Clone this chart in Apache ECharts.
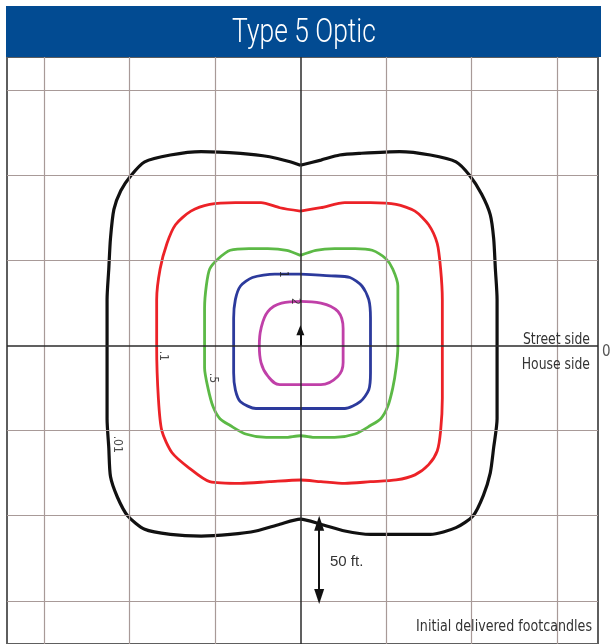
<!DOCTYPE html>
<html lang="en">
<head>
    <meta charset="UTF-8">
    <title>Type 5 Optic</title>
    <script type="text/javascript" src="https://cdn.jsdelivr.net/npm/echarts@6/dist/echarts.min.js"></script>
    <style>
        html, body { margin: 0; padding: 0; background: #fff; }
    </style>
</head>
<body>
  <div id="main" style="width: 610px;height: 644px;"></div>
</body>
<script>
    // grid lines every 50 ft, center axes at 0
    var gridTicks = [-150, -100, -50, 50, 100, 150];

    // isofootcandle contours (x, y in ft)
    var contour001 = [[0,106],[12,109],[23,112],[35,113],[58,114],[76,112],[91,108],[99,100],[106,89],[111,77],[113,63],[114,45],[115,27],[115,-1],[115,-19],[115,-43],[113,-60],[111,-75],[107,-88],[101,-100],[91,-107],[76,-111],[58,-111],[41,-111],[26,-109],[12,-105],[0,-102],[-12,-105],[-26,-109],[-41,-111],[-58,-112],[-76,-111],[-91,-108],[-101,-100],[-107,-89],[-111,-77],[-112,-60],[-113,-43],[-113,-19],[-113,-1],[-113,27],[-112,45],[-111,63],[-109,80],[-105,91],[-99,100],[-91,108],[-76,112],[-58,114],[-35,113],[-18,111],[-6,108],[0,106]];
    var contour01 = [[0,79],[12,81],[26,84],[41,84],[56,83],[67,79],[75,71],[80,60],[82,45],[83,27],[83,-1],[83,-31],[82,-50],[80,-62],[75,-70],[67,-76],[56,-79],[41,-80],[26,-81],[12,-80],[0,-79],[-18,-80],[-35,-81],[-53,-80],[-65,-72],[-75,-63],[-81,-50],[-83,-31],[-84,-1],[-84,27],[-82,45],[-78,60],[-73,71],[-64,79],[-53,83],[-38,84],[-23,84],[-12,81],[0,79]];
    var contour05 = [[0,53],[9,56],[20,57],[32,57],[42,56],[50,51],[54,45],[57,35],[57,22],[57,-1],[56,-13],[54,-25],[51,-36],[47,-43],[41,-47],[32,-52],[20,-54],[9,-54],[0,-53],[-9,-54],[-20,-54],[-32,-52],[-41,-47],[-47,-43],[-51,-36],[-54,-25],[-56,-13],[-56,-1],[-56,22],[-55,35],[-53,45],[-48,51],[-41,56],[-30,57],[-19,57],[-8,56],[0,53]];
    var contour1 = [[0,42],[18,41],[29,40],[36,35],[40,27],[41,16],[41,-1],[41,-16],[40,-26],[35,-33],[26,-37],[12,-37],[0,-37],[-12,-37],[-26,-37],[-35,-33],[-38,-26],[-39,-16],[-39,-1],[-39,16],[-38,27],[-35,35],[-28,40],[-15,42],[0,42]];
    var contour2 = [[0,26],[12,25],[22,20],[25,10],[25,0],[25,-10],[22,-18],[12,-23],[0,-23],[-12,-23],[-19,-18],[-23,-10],[-24,0],[-23,10],[-19,20],[-11,25],[0,26]];

    // contour labels and where they sit on the plot
    var levelNames = ['.01', '.1', '.5', '1', '2'];
    var levelLabelPos = [[-107, -58], [-80, -6], [-51, -19], [-10, 42], [-3, 26]];
    var levelColors = ['#111111', '#ec2227', '#5cb946', '#2c3a9c', '#c040a8'];
    var contours = [contour001, contour01, contour05, contour1, contour2];

    var narrowFont = "'Liberation Sans Narrow', 'DejaVu Sans Condensed', 'Liberation Sans', sans-serif";

    var myChart = echarts.init(document.getElementById('main'));

    var gridLineData = [];
    gridTicks.forEach(function (v) {
        gridLineData.push({xAxis: v});
        gridLineData.push({yAxis: v});
    });

    var series = [{
        // background grid + center axes
        type: 'line',
        data: [],
        silent: true,
        markLine: {
            silent: true,
            symbol: ['none', 'none'],
            label: {show: false},
            lineStyle: {color: '#a89a98', width: 1.2, type: 'solid'},
            data: gridLineData
        }
    }, {
        type: 'line',
        data: [],
        silent: true,
        z: 3,
        markLine: {
            silent: true,
            symbol: ['none', 'none'],
            label: {show: false},
            lineStyle: {color: '#2b2b2b', width: 1.5, type: 'solid'},
            data: [{xAxis: 0}, {yAxis: 0}]
        }
    }];

    contours.forEach(function (c, i) {
        series.push({
            name: levelNames[i],
            type: 'line',
            data: c,
            smooth: i === 4 ? 0.4 : 0.25,
            showSymbol: false,
            clip: false,
            z: 4,
            lineStyle: {color: levelColors[i], width: i === 0 ? 3.2 : 2.8}
        });
    });

    // contour value labels
    series.push({
        type: 'scatter',
        symbolSize: 0,
        silent: true,
        z: 6,
        data: levelLabelPos.map(function (p, i) {
            return {value: p, name: levelNames[i]};
        }),
        label: {
            show: true,
            formatter: '{b}',
            rotate: -90,
            position: 'inside',
            color: '#222',
            fontSize: 12,
            fontFamily: narrowFont
        }
    });

    // arrows: luminaire direction at center, 50 ft scale
    series.push({
        type: 'line',
        data: [],
        silent: true,
        z: 7,
        markLine: {
            silent: true,
            label: {show: false},
            lineStyle: {color: '#111', width: 2, type: 'solid'},
            data: [
                [{coord: [0, 0], symbol: 'none'}, {coord: [0, 9], symbol: 'triangle', symbolSize: [8, 10]}],
                [{coord: [11, -104.5], symbol: 'triangle', symbolSize: [10, 15]}, {coord: [11, -147.5], symbol: 'triangle', symbolSize: [10, 15]}]
            ]
        }
    });

    var option = {
        backgroundColor: '#ffffff',
        animation: false,
        grid: {
            left: 7,
            right: 12,
            top: 57,
            bottom: -3,
            show: true,
            borderColor: '#5e5e5e',
            borderWidth: 2,
            backgroundColor: 'transparent'
        },
        xAxis: {
            type: 'value',
            min: -171.5,
            max: 174,
            axisLine: {show: false},
            axisTick: {show: false},
            axisLabel: {show: false},
            splitLine: {show: false}
        },
        yAxis: {
            type: 'value',
            min: -175.4,
            max: 169.6,
            axisLine: {show: false},
            axisTick: {show: false},
            axisLabel: {show: false},
            splitLine: {show: false}
        },
        graphic: [{
            type: 'rect',
            left: 6,
            top: 6,
            shape: {width: 595, height: 51},
            style: {fill: '#024b92'},
            z: 100
        }, {
            type: 'text',
            x: 304,
            y: 34,
            scaleX: 0.8,
            style: {
                text: 'Type 5 Optic',
                fill: '#ffffff',
                font: '300 33px Roboto, ' + narrowFont,
                textAlign: 'center',
                textVerticalAlign: 'middle'
            },
            z: 101
        }, {
            type: 'text',
            x: 590,
            y: 340,
            scaleX: 0.92,
            style: {text: 'Street side', fill: '#333', font: '15px ' + narrowFont, textAlign: 'right', textVerticalAlign: 'middle'},
            z: 101
        }, {
            type: 'text',
            x: 590,
            y: 365,
            scaleX: 0.92,
            style: {text: 'House side', fill: '#333', font: '15px ' + narrowFont, textAlign: 'right', textVerticalAlign: 'middle'},
            z: 101
        }, {
            type: 'text',
            x: 602,
            y: 352,
            style: {text: '0', fill: '#555', font: '15px ' + narrowFont, textAlign: 'left', textVerticalAlign: 'middle'},
            z: 101
        }, {
            type: 'text',
            x: 330,
            y: 562,
            style: {text: '50 ft.', fill: '#333', font: '15px "Liberation Sans", sans-serif', textAlign: 'left', textVerticalAlign: 'middle'},
            z: 101
        }, {
            type: 'text',
            x: 592,
            y: 627,
            scaleX: 0.94,
            style: {text: 'Initial delivered footcandles', fill: '#333', font: '15px ' + narrowFont, textAlign: 'right', textVerticalAlign: 'middle'},
            z: 101
        }],
        series: series
    };

    myChart.setOption(option);
</script>
</html>
